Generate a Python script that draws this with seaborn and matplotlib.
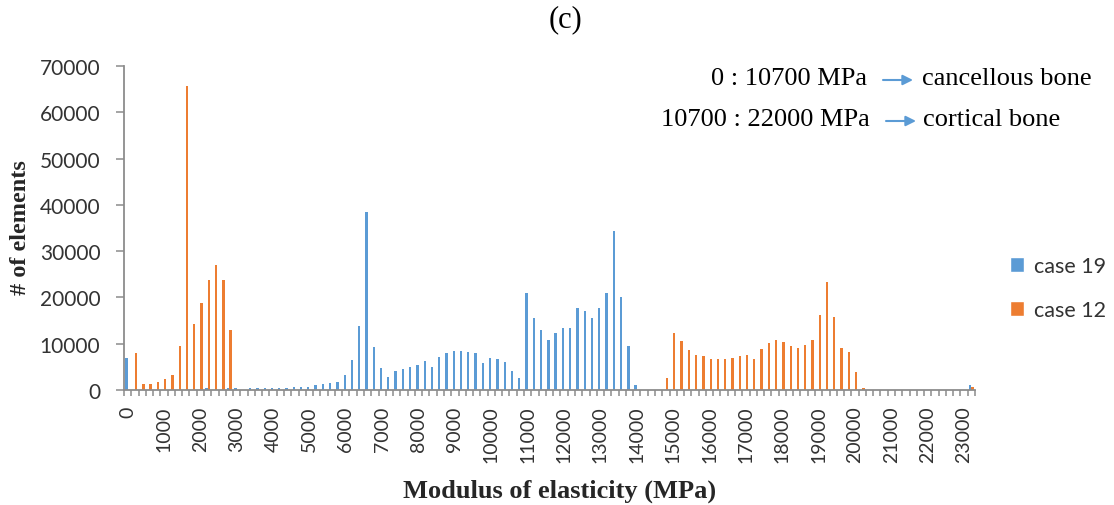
import numpy as np
import pandas as pd
import matplotlib
matplotlib.use("Agg")
import matplotlib.pyplot as plt
import seaborn as sns
from matplotlib.patches import Patch

# Modulus bins (MPa), 200 MPa wide
modulus_mpa = np.arange(0, 23201, 200)

# Element counts per bin
case19 = ([7000] + [0] * 10 + [400, 0, 0, 400, 350, 0] + [350] * 6 + [650] * 3 +
          [1000, 1300, 1600, 1700, 3200, 6400, 13900, 38500, 9200, 4800,
           2900, 4100, 4500, 5000, 5400, 6300, 5000, 7200, 7900, 8500,
           8500, 8200, 7900, 5800, 6900, 6600, 6000, 4100, 2500, 20900,
           15500, 13000, 10700, 12400, 13300, 13300, 17700, 17100, 15500, 17700,
           20900, 34400, 20000, 9500, 1000] +
          [0] * 45 + [1000])

case12 = ([0, 8000, 1300, 1300, 1700, 2300, 3200, 9500, 65700, 14300,
           18800, 23800, 26900, 23800, 13000] +
          [0] * 59 +
          [2600, 12400, 10500, 8600, 7600, 7300, 6600, 6600, 6600, 7000,
           7300, 7600, 6600, 8900, 10200, 10700, 10400, 9500, 9100, 9800,
           10700, 16100, 23400, 15800, 9100, 8200, 3800, 350] +
          [0] * 14 + [600])

series_names = ["case 19", "case 12"]
y_ticks = list(range(0, 70001, 10000))
x_tick_labels = [str(v) for v in modulus_mpa[::5]]

assert len(case19) == len(modulus_mpa) == len(case12)

BLUE = "#5B9BD5"
ORANGE = "#ED7D31"
AXIS_GREY = "#8C8C8C"
TEXT_GREY = "#333333"

df = pd.DataFrame({
    "modulus": np.concatenate([modulus_mpa, modulus_mpa]),
    "case": [series_names[0]] * len(modulus_mpa) + [series_names[1]] * len(modulus_mpa),
    "count": case19 + case12,
})

sns.set_style("white")
plt.rcParams["font.family"] = ["Lato", "DejaVu Sans"]

W, H = 1114, 506
fig = plt.figure(figsize=(W / 100, H / 100), dpi=100)


def fpos(x, y):
    return x / W, 1 - y / H


ax = fig.add_axes([124 / W, 1 - 391 / H, (975 - 124) / W, (391 - 67) / H])

sns.barplot(data=df, x="modulus", y="count", hue="case",
            order=list(modulus_mpa), hue_order=series_names,
            palette=[BLUE, ORANGE], saturation=1, width=0.64,
            linewidth=0, legend=False, ax=ax)

ax.set_xlim(-0.5, len(modulus_mpa) - 0.5)
ax.set_ylim(0, 70000)
ax.set_xlabel("")
ax.set_ylabel("")

# x axis: labels every 1000 MPa, tick marks between bins
ax.set_xticks(np.arange(0, len(modulus_mpa), 5))
ax.set_xticklabels(x_tick_labels)
ax.set_xticks(np.arange(-0.5, len(modulus_mpa), 1), minor=True)
ax.tick_params(axis="x", which="major", length=0, pad=11, labelrotation=90,
               labelsize=14, labelcolor=TEXT_GREY)
ax.tick_params(axis="x", which="minor", length=4, width=1.1, color=AXIS_GREY,
               direction="out", bottom=True)

ax.set_yticks(y_ticks)
ax.set_yticklabels([str(v) for v in y_ticks])
ax.tick_params(axis="y", which="major", length=6, width=1.1, color=AXIS_GREY,
               direction="out", left=True, pad=11, labelsize=15,
               labelcolor=TEXT_GREY)

for side in ("top", "right"):
    ax.spines[side].set_visible(False)
for side in ("left", "bottom"):
    ax.spines[side].set_color(AXIS_GREY)
    ax.spines[side].set_linewidth(1.3)

serif = ["Liberation Serif", "DejaVu Serif"]

fig.text(*fpos(565, 20), "(c)", ha="center", va="center",
         family=serif, fontsize=22, color="black")
fig.text(*fpos(21, 228), "# of elements", ha="center", va="center",
         rotation=90, family=serif, fontsize=17.5, fontweight="bold")
fig.text(*fpos(560, 491), "Modulus of elasticity (MPa)", ha="center",
         va="center", family=serif, fontsize=19, fontweight="bold")

# range notes with arrows
notes = [
    (867, 79, "0 : 10700 MPa", 883, 913, "cancellous bone", 922),
    (870, 120, "10700 : 22000 MPa", 886, 916, "cortical bone", 923),
]
for xr, y, left_txt, ax0, ax1, right_txt, xl in notes:
    fig.text(*fpos(xr, y), left_txt, ha="right", va="center",
             family=serif, fontsize=19, color="black")
    fig.text(*fpos(xl, y), right_txt, ha="left", va="center",
             family=serif, fontsize=19, color="black")
    ax.annotate("", xy=fpos(ax1, y + 2), xytext=fpos(ax0, y + 2),
                xycoords="figure fraction", textcoords="figure fraction",
                arrowprops=dict(arrowstyle="-|>", color=BLUE, lw=1.5,
                                mutation_scale=15, shrinkA=0, shrinkB=0))

handles = [Patch(facecolor=BLUE, label=series_names[0]),
           Patch(facecolor=ORANGE, label=series_names[1])]
fig.legend(handles=handles, loc="upper left", bbox_to_anchor=fpos(1010, 257),
           frameon=False, handlelength=0.65, handleheight=0.65,
           handletextpad=0.45, labelspacing=1.12, fontsize=15.5,
           borderpad=0, borderaxespad=0, labelcolor=TEXT_GREY)

fig.savefig("out.png", dpi=100)
